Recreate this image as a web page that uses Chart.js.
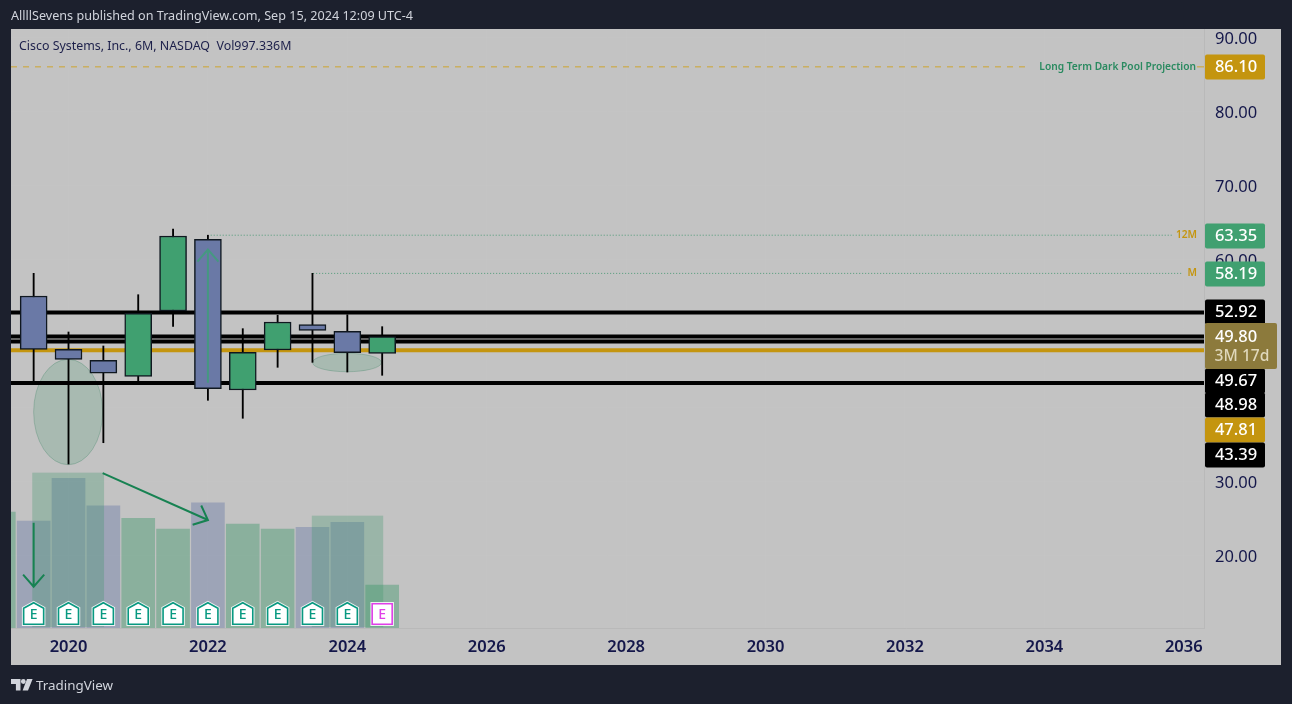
<!DOCTYPE html>
<html>
<head>
<meta charset="utf-8">
<title>Cisco Systems, Inc., 6M</title>
<script src="https://cdn.jsdelivr.net/npm/chart.js@4"></script>
<style>
    html, body { margin: 0; padding: 0; background: #1c202d; overflow: hidden; }
    #wrap { position: relative; width: 1292px; height: 704px; }
    canvas { display: block; }
    .txt { position: absolute; white-space: pre; font-family: "Noto Sans", sans-serif; }
    #published { left: 11px; top: 7px; font-size: 12.6px; color: #d1d4dc; }
    #legend { left: 19px; top: 37px; font-size: 12.4px; color: #1c1f4a; }
    #brand { left: 36px; top: 676px; font-size: 13.4px; color: #d1d4dc; }
    #logo { position: absolute; left: 11px; top: 679px; }
</style>
</head>
<body>
<div id="wrap">
    <canvas id="chart" width="1292" height="704"></canvas>
    <div class="txt" id="published">AllllSevens published on TradingView.com, Sep 15, 2024 12:09 UTC-4</div>
    <div class="txt" id="legend">Cisco Systems, Inc., 6M, NASDAQ  Vol997.336M</div>
    <svg id="logo" width="22" height="12" viewBox="0 0 22 12">
        <path fill="#d1d4dc" d="M0 0h9.5v11.5h-4.6v-6.6H0z"/>
        <circle fill="#d1d4dc" cx="12.3" cy="2.5" r="2.4"/>
        <path fill="#d1d4dc" d="M16 0h5.6l-4.6 11.5h-5.4z"/>
    </svg>
    <div class="txt" id="brand">TradingView</div>
</div>

<script>
// half-year candles, x is decimal year
const candleYears = [2019.5, 2020, 2020.5, 2021, 2021.5, 2022, 2022.5, 2023, 2023.5, 2024, 2024.5];
const opens  = [55.14, 47.93, 46.45, 44.28, 53.11, 62.80, 42.43, 47.84, 51.26, 50.36, 47.39];
const closes = [47.93, 46.58, 44.69, 52.80, 63.24, 42.61, 47.53, 51.62, 50.50, 47.47, 49.64];
const highs  = [58.20, 50.27, 48.38, 55.31, 64.19, 63.35, 50.72, 52.53, 58.20, 52.60, 50.99];
const lows   = [43.51, 32.43, 35.31, 43.51, 51.04, 41.04, 38.61, 45.50, 46.17, 44.86, 44.42];
const candleColors = ['b', 'b', 'b', 'g', 'g', 'b', 'g', 'g', 'b', 'b', 'g'];

// volume in millions, one extra bar on the left edge
const volumeYears  = [2019, 2019.5, 2020, 2020.5, 2021, 2021.5, 2022, 2022.5, 2023, 2023.5, 2024, 2024.5];
const volumes      = [2691, 2482, 3473, 2837, 2545, 2297, 2907, 2413, 2297, 2336, 2452, 997];
const volumeColors = ['g', 'b', 'b', 'b', 'g', 'g', 'b', 'g', 'g', 'b', 'b', 'g'];

const xTicks = [2020, 2022, 2024, 2026, 2028, 2030, 2032, 2034, 2036];
const yTicks = [20, 30, 40, 50, 60, 70, 80, 90];
const xRange = [2019.175, 2036.29];
const yRange = [10.27, 91.216];

const blackLevels = [52.92, 49.67, 48.98, 43.39];
const goldLevel = 47.81;
const projectionLevel = 86.10;
const yearHigh = 63.35;
const monthHigh = 58.19;

const BG_DARK = '#1c202d';
const PANEL = '#c3c3c3';
const GREEN = '#40a070';
const BLUE = '#6a79a6';
const GOLD = '#c4950f';
const NAVY = '#14174a';
const FONT = '"Noto Sans", sans-serif';

// drawn shapes, in year / price
const boxes = [
    { x0: 2019.48, x1: 2020.51, top: 31.26, bottom: 10.4 },
    { x0: 2023.49, x1: 2024.515, top: 25.45, bottom: 10.4 }
];
const ellipses = [
    { x0: 2019.5, x1: 2020.49, top: 46.58, bottom: 32.34 },
    { x0: 2023.5, x1: 2024.49, top: 47.39, bottom: 44.9 }
];
const arrows = [
    { x0: 2019.5, y0: 24.5, x1: 2019.5, y1: 15.85, color: '#178252' },
    { x0: 2020.49, y0: 31.2, x1: 2022, y1: 24.86, color: '#178252' },
    { x0: 2022, y0: 43.4, x1: 2022, y1: 61.4, color: 'rgba(60,160,120,0.8)' }
];
const earningsPrice = 12.2;
const earningsYears = [2019.5, 2020, 2020.5, 2021, 2021.5, 2022, 2022.5, 2023, 2023.5, 2024];
const upcomingEarnings = [2024.5];

// axis tags: text, colour, pixel row after the stacking on the price scale
const priceTags = [
    ['86.10', GOLD, 67],
    ['63.35', GREEN, 236],
    ['58.19', GREEN, 274],
    ['52.92', '#000000', 312],
    ['49.67', '#000000', 381],
    ['48.98', '#000000', 405],
    ['47.81', GOLD, 430],
    ['43.39', '#000000', 455]
];

function pick(keys, green, blue) {
    return keys.map(k => (k === 'g' ? green : blue));
}

function flatLine(label, x0, x1, value, color, width, dash, order) {
    return {
        type: 'line', label: label,
        data: [{ x: x0, y: value }, { x: x1, y: value }],
        borderColor: color, borderWidth: width, borderDash: dash || [],
        pointRadius: 0, order: order, yAxisID: 'y'
    };
}

function drawArrow(ctx, x0, y0, x1, y1, color) {
    const a = Math.atan2(y1 - y0, x1 - x0);
    const head = 16;
    ctx.strokeStyle = color;
    ctx.lineWidth = 2;
    ctx.beginPath();
    ctx.moveTo(x0, y0);
    ctx.lineTo(x1, y1);
    ctx.moveTo(x1 - head * Math.cos(a - 0.72), y1 - head * Math.sin(a - 0.72));
    ctx.lineTo(x1, y1);
    ctx.lineTo(x1 - head * Math.cos(a + 0.72), y1 - head * Math.sin(a + 0.72));
    ctx.stroke();
}

function drawEarnings(ctx, x, y, upcoming) {
    const c = upcoming ? '#e040e8' : '#089981';
    ctx.beginPath();
    if (upcoming) {
        ctx.rect(x - 10, y - 10, 20, 20.5);
    } else {
        ctx.moveTo(x, y - 11);
        ctx.lineTo(x + 10, y - 5.5);
        ctx.lineTo(x + 10, y + 10.5);
        ctx.lineTo(x - 10, y + 10.5);
        ctx.lineTo(x - 10, y - 5.5);
        ctx.closePath();
    }
    ctx.strokeStyle = 'rgba(255,255,255,0.85)';
    ctx.lineWidth = 3.5;
    ctx.stroke();
    ctx.fillStyle = '#ffffff';
    ctx.fill();
    ctx.strokeStyle = c;
    ctx.lineWidth = 1.6;
    ctx.stroke();
    ctx.fillStyle = c;
    ctx.font = '500 14px ' + FONT;
    ctx.textAlign = 'center';
    ctx.textBaseline = 'middle';
    ctx.fillText('E', x, y + 1);
}

const panelPlugin = {
    id: 'panel',
    beforeDraw(chart) {
        const ctx = chart.ctx;
        ctx.save();
        ctx.fillStyle = BG_DARK;
        ctx.fillRect(0, 0, 1292, 704);
        ctx.fillStyle = PANEL;
        ctx.fillRect(11, 29, 1270, 636);
        ctx.restore();
    },
    beforeDatasetsDraw(chart) {
        const ctx = chart.ctx, x = chart.scales.x, y = chart.scales.y;
        ctx.save();
        ellipses.forEach(e => {
            const x0 = x.getPixelForValue(e.x0), x1 = x.getPixelForValue(e.x1);
            const y0 = y.getPixelForValue(e.top), y1 = y.getPixelForValue(e.bottom);
            ctx.beginPath();
            ctx.ellipse((x0 + x1) / 2, (y0 + y1) / 2, (x1 - x0) / 2, (y1 - y0) / 2, 0, 0, Math.PI * 2);
            ctx.fillStyle = 'rgba(60,150,105,0.2)';
            ctx.fill();
            ctx.strokeStyle = 'rgba(60,130,100,0.3)';
            ctx.lineWidth = 1;
            ctx.stroke();
        });
        ctx.restore();
    },
    // the drawn boxes sit on top of the volume bars
    afterDatasetDraw(chart, args) {
        if (chart.data.datasets[args.index].label !== 'Volume') return;
        const ctx = chart.ctx, x = chart.scales.x, y = chart.scales.y;
        ctx.save();
        boxes.forEach(b => {
            ctx.fillStyle = 'rgba(60,150,105,0.3)';
            ctx.fillRect(x.getPixelForValue(b.x0), y.getPixelForValue(b.top),
                x.getPixelForValue(b.x1) - x.getPixelForValue(b.x0),
                y.getPixelForValue(b.bottom) - y.getPixelForValue(b.top));
        });
        ctx.restore();
    },
    afterDatasetsDraw(chart) {
        const ctx = chart.ctx, x = chart.scales.x, y = chart.scales.y;
        ctx.save();
        arrows.forEach(a => drawArrow(ctx, x.getPixelForValue(a.x0), y.getPixelForValue(a.y0),
            x.getPixelForValue(a.x1), y.getPixelForValue(a.y1), a.color));
        earningsYears.forEach(v => drawEarnings(ctx, x.getPixelForValue(v), y.getPixelForValue(earningsPrice), false));
        upcomingEarnings.forEach(v => drawEarnings(ctx, x.getPixelForValue(v), y.getPixelForValue(earningsPrice), true));

        // small notes on the chart
        ctx.textBaseline = 'middle';
        ctx.textAlign = 'right';
        ctx.font = '600 10.2px ' + FONT;
        ctx.fillStyle = '#2a8a60';
        ctx.fillText('Long Term Dark Pool Projection', 1196, y.getPixelForValue(projectionLevel) + 0.5);
        ctx.fillStyle = GOLD;
        ctx.fillText('12M', 1197, y.getPixelForValue(yearHigh));
        ctx.fillText('M', 1197, y.getPixelForValue(monthHigh));
        ctx.restore();
    },
    afterDraw(chart) {
        const ctx = chart.ctx;
        ctx.save();
        ctx.textAlign = 'center';
        ctx.textBaseline = 'middle';
        priceTags.forEach(t => {
            ctx.fillStyle = t[1];
            ctx.beginPath();
            ctx.roundRect(1205, t[2] - 12.5, 60, 25, 2);
            ctx.fill();
            ctx.fillStyle = '#ffffff';
            ctx.font = '500 16.5px ' + FONT;
            ctx.fillText(t[0], 1236, t[2] + 0.5);
        });
        // countdown tag sits on top of the stack
        ctx.fillStyle = '#8c7a3c';
        ctx.beginPath();
        ctx.roundRect(1205, 323, 72, 46, 2);
        ctx.fill();
        ctx.font = '500 16.5px ' + FONT;
        ctx.fillStyle = '#ffffff';
        ctx.fillText('49.80', 1236, 337);
        ctx.fillStyle = '#e0d8bc';
        ctx.font = '500 15.6px ' + FONT;
        ctx.fillText('3M 17d', 1242, 357);
        ctx.restore();
    }
};

const candleBodies = candleYears.map((v, i) => ({ x: v, y: [opens[i], closes[i]] }));
const candleWicks = candleYears.map((v, i) => ({ x: v, y: [lows[i], highs[i]] }));
const volumeBars = volumeYears.map((v, i) => ({ x: v, y: volumes[i] }));

const datasets = [
    {
        type: 'bar', label: 'Body', data: candleBodies, yAxisID: 'y', order: 1,
        backgroundColor: pick(candleColors, GREEN, BLUE),
        borderColor: '#101820', borderWidth: 1.5, borderSkipped: false, barThickness: 27
    },
    {
        type: 'bar', label: 'Wick', data: candleWicks, yAxisID: 'y', order: 2,
        backgroundColor: '#000000', borderWidth: 0, barThickness: 1.2
    },
    flatLine('Gold level', xRange[0], xRange[1], goldLevel, GOLD, 4, null, 3),
    ...blackLevels.map(v => flatLine('Level ' + v, xRange[0], xRange[1], v, '#000000', 4, null, 3)),
    flatLine('Projection', xRange[0], 2033.79, projectionLevel, '#cfa630', 1, [6, 6], 4),
    flatLine('Projection end', 2036.19, xRange[1], projectionLevel, '#cfa630', 1, null, 4),
    flatLine('12M high', 2022.04, 2035.83, yearHigh, 'rgba(40,140,95,0.75)', 1, [1, 2], 4),
    flatLine('M high', 2023.51, 2035.99, monthHigh, 'rgba(40,140,95,0.75)', 1, [1, 2], 4),
    {
        type: 'bar', label: 'Volume', data: volumeBars, yAxisID: 'y1', order: 5,
        backgroundColor: pick(volumeColors, 'rgba(60,150,105,0.42)', 'rgba(106,121,166,0.42)'),
        borderWidth: 0, barThickness: 33
    }
];

new Chart(document.getElementById('chart'), {
    data: { datasets: datasets },
    plugins: [panelPlugin],
    options: {
        responsive: false,
        animation: false,
        devicePixelRatio: 1,
        layout: { padding: { left: 11, top: 29, right: 11, bottom: 39 } },
        datasets: { bar: { grouped: false } },
        plugins: { legend: { display: false }, tooltip: { enabled: false } },
        scales: {
            x: {
                type: 'linear', offset: false, min: xRange[0], max: xRange[1],
                afterBuildTicks: s => { s.ticks = xTicks.map(v => ({ value: v })); },
                afterFit: s => { s.height = 37; },
                grid: { offset: false, color: 'rgba(255,255,255,0.03)', drawTicks: false },
                border: { color: '#b9b9b9' },
                ticks: {
                    color: NAVY, padding: 9, maxRotation: 0, autoSkip: false,
                    font: { family: 'Noto Sans', size: 16.5, weight: '600' },
                    callback: v => String(v)
                }
            },
            y: {
                type: 'linear', position: 'right', min: yRange[0], max: yRange[1],
                afterBuildTicks: s => { s.ticks = yTicks.map(v => ({ value: v })); },
                afterFit: s => { s.width = 77; },
                grid: { color: 'rgba(255,255,255,0.03)', drawTicks: false },
                border: { color: '#b9b9b9' },
                ticks: {
                    color: NAVY, padding: 11, autoSkip: false, labelOffset: 1,
                    font: { family: 'Noto Sans', size: 16.5 },
                    callback: v => v.toFixed(2)
                }
            },
            y1: { type: 'linear', display: false, min: 0, max: 13900 }
        }
    }
});
</script>
</body>
</html>
